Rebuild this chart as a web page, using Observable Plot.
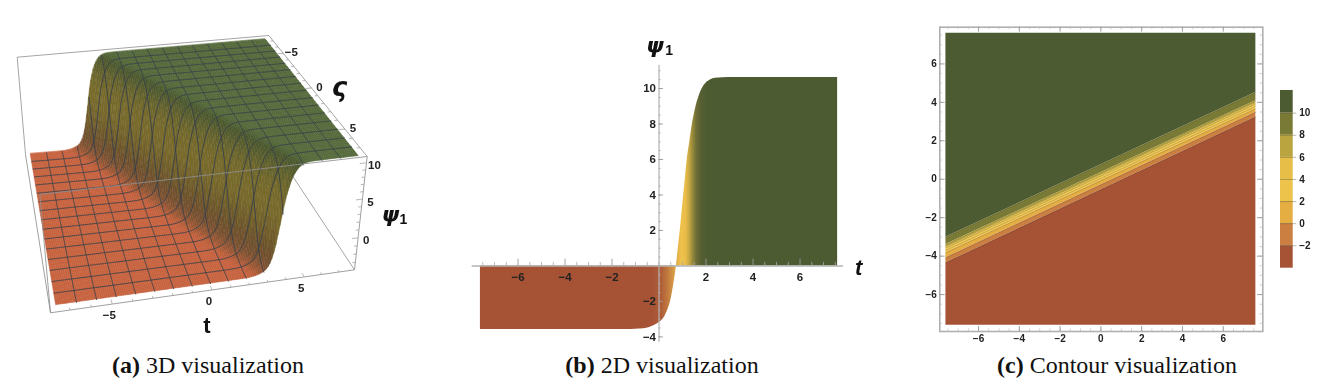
<!DOCTYPE html>
<html><head><meta charset="utf-8">
<script src="https://cdn.jsdelivr.net/npm/d3@7"></script>
<script src="https://cdn.jsdelivr.net/npm/@observablehq/plot@0.6"></script>
<style>
html,body{margin:0;background:#fff;width:1326px;height:387px;overflow:hidden}
.p{position:absolute}
.p svg{display:block;overflow:visible;background:transparent;filter:blur(.35px)}
.cap{position:absolute;transform:translateX(-50%);font:24px "Liberation Serif",serif;color:#111;white-space:nowrap;top:352px}
</style></head><body>
<script>
// ---------- values ----------
const profT   = [-7.6,-1.4,-1.0,-0.65,-0.4,-0.2,0.0,0.2,0.35,0.49,0.62,0.74,0.82,0.92,1.02,1.11,1.2,1.31,1.42,1.55,1.7,1.84,2.0,2.2,2.4,2.7,3.2,7.6];
const profPsi = [-3.58,-3.58,-3.57,-3.54,-3.47,-3.36,-3.2,-2.95,-2.55,-2.0,-1.1,0,1.0,2.2,3.6,4.8,6,7.0,8,8.85,9.55,10,10.3,10.5,10.58,10.61,10.62,10.62];
const gradT     = [-7.6,-0.3,0.1,0.4,0.7,0.95,1.15,1.3,1.45,1.6,1.8,2.1,7.6];
const gradColor = ["#a65335","#a65335","#ae5d38","#c27b3f","#dca247","#eec24b","#e9bd48","#c9a743","#968a3a","#6e6f35","#565f32","#4c5b31","#4c5b31"];
const ticks2dX = [-6,-4,-2,2,4,6];
const ticks2dY = [-4,-2,2,4,6,8,10];
const levels   = [10,8,6,4,2,0,-2];
const yAtLeft  = [-3.02,-3.40,-3.56,-3.69,-3.82,-4.08,-4.35];
const yAtRight = [4.51,4.09,3.93,3.80,3.67,3.49,3.24];
const bandColor = ["#4c5b31","#7a7a37","#b9a43f","#e7bf48","#edc34b","#e5ae43","#cb7f41","#a65235"];
const ticksC = [-6,-4,-2,0,2,4,6];
const frontSlope = 0.5, frontShift = 1.04;
const surfPsi   = [-3.6,-3.45,-3.2,-2.6,-1.5,0.5,3,6,8,9.4,10.1,10.45,10.62];
const surfColor = ["#c9623f","#bd5f3b","#9a5735","#7a5232","#6d4f2c","#6f5c2a","#786a2b","#75692b","#66632d","#555c2f","#4a572d","#4f6235","#55693a"];
const meshLines = d3.range(1,16).map(i=>-7.6+i*15.2/16);
const topQuad = [[16.7,56.7],[268.3,35],[366.7,156],[39.3,194]];
const botQuad = [[25,154],[265.3,135],[354,269.3],[50,312.3]];
const psiBox = [-3.9,10.9], tBox = [-7.9,7.9];

const txt = {fontFamily:'"Liberation Sans",Arial,sans-serif',fontWeight:700,fill:"#222",fontSize:11.5};
const greek = {fontFamily:'"DejaVu Sans",sans-serif',fontWeight:700,fontStyle:"italic",fill:"#111"};
const sub1 = {fontFamily:'"Liberation Sans",sans-serif',fontWeight:700,fill:"#111",fontSize:14};
const fmt = d => String(d).replace("-","\u2212");
function place(el,left,top){const d=document.createElement("div");d.className="p";d.style.left=left+"px";d.style.top=top+"px";d.append(el);document.body.append(d);}
function cap(b,rest,cx){const d=document.createElement("div");d.className="cap";d.style.left=cx+"px";d.innerHTML="<b>"+b+"</b> "+rest;document.body.append(d);}

function quadMap([p0,p1,p2,p3]){
  const [x0,y0]=p0,[x1,y1]=p1,[x2,y2]=p2,[x3,y3]=p3;
  const dx1=x1-x2,dx2=x3-x2,dx3=x0-x1+x2-x3,dy1=y1-y2,dy2=y3-y2,dy3=y0-y1+y2-y3;
  const det=dx1*dy2-dx2*dy1,g=(dx3*dy2-dx2*dy3)/det,h=(dx1*dy3-dx3*dy1)/det;
  const a=x1-x0+g*x1,b=x3-x0+h*x3,d=y1-y0+g*y1,e=y3-y0+h*y3;
  return (u,v)=>{const w=g*u+h*v+1;return [(a*u+b*v+x0)/w,(d*u+e*v+y0)/w];};
}
const mapTop=quadMap(topQuad),mapBot=quadMap(botQuad);
const norm=d3.scaleLinear().domain(tBox).range([0,1]);
function proj(t,z,psi){
  const u=norm(t),v=norm(z),raw=(psi-psiBox[0])/(psiBox[1]-psiBox[0]),w=raw*1.1/(1+0.1*raw);
  const a=mapTop(u,v),b=mapBot(u,v);
  return [b[0]+(a[0]-b[0])*w,b[1]+(a[1]-b[1])*w];
}
const profile=d3.scaleLinear().domain(profT).range(profPsi).clamp(true);
const surf=(t,z)=>profile(t-frontSlope*z+frontShift);
const shade=d3.scaleLinear().domain(surfPsi).range(surfColor).clamp(true);

const quads=[];
const zGrid=d3.range(0,38).map(i=>-7.6+i*0.4);
for(const t of d3.range(0,152).map(i=>7.6-i*0.1)) for(const z of zGrid){
  const t0=t-0.1,z1=z+0.4,id=quads.length/2|0;
  const a=proj(t,z,surf(t,z)),b=proj(t0,z,surf(t0,z)),c=proj(t,z1,surf(t,z1)),d=proj(t0,z1,surf(t0,z1));
  const col=shade(surf(t-0.05,z+0.2));
  quads.push({id,x1:a[0],y1:a[1],x2:b[0],y2:b[1],c:col},{id,x1:c[0],y1:c[1],x2:d[0],y2:d[1],c:col});
}
const fine=d3.range(0,305).map(i=>-7.6+i*0.05);
const mesh=[];
for(const t of meshLines) for(const z of fine){const p=proj(t,z,surf(t,z));mesh.push({k:"t"+t,x:p[0],y:p[1]});}
for(const z of meshLines) for(const t of fine){const p=proj(t,z,surf(t,z));mesh.push({k:"z"+z,x:p[0],y:p[1]});}

const B=tBox,P=psiBox;
const edge=(a,b)=>{const p=proj(...a),q=proj(...b);return {x1:p[0],y1:p[1],x2:q[0],y2:q[1]};};
const backEdges=[edge([B[0],B[0],P[1]],[B[1],B[0],P[1]]),edge([B[0],B[0],P[1]],[B[0],B[0],P[0]]),edge([B[1],B[0],P[0]],[B[1],B[1],P[0]]),edge([B[1],B[0],P[1]],[B[1],B[1],P[1]])];
const frontEdges=[edge([B[0],B[1],P[1]],[B[1],B[1],P[1]]),edge([B[0],B[1],P[0]],[B[1],B[1],P[0]]),edge([B[1],B[1],P[0]],[B[1],B[1],P[1]]),edge([B[0],B[1],P[0]],[B[0],B[1],P[1]]),edge([B[0],B[0],P[0]],[B[0],B[1],P[0]])];
const tickLinks=[];
d3.range(-7,8).forEach(v=>{const L=v%5===0?0.35:0.18;
  tickLinks.push(edge([v,B[1],P[0]],[v,B[1]-L,P[0]]));
  tickLinks.push(edge([B[1],v,P[1]],[B[1]-L,v,P[1]]));
});
d3.range(-3,11).forEach(v=>{tickLinks.push(edge([B[1],B[1],v],[B[1]-(v%5===0?0.35:0.18),B[1],v]));});
const labelsA=[
  ...[-5,0,5].map(v=>{const p=proj(v,B[1],P[0]);return {x:p[0]-3,y:p[1]+11,s:fmt(v)};}),
  ...[-5,0,5].map(v=>{const p=proj(B[1],v,P[1]);return {x:p[0]+8,y:p[1]-1,s:fmt(v)};}),
  ...[0,5,10].map(v=>{const p=proj(B[1],B[1],v);return {x:p[0]+8,y:p[1]+3,s:fmt(v)};})
];

place(Plot.plot({width:430,height:350,margin:0,
  x:{domain:[0,430],range:[0,430],axis:null},y:{domain:[0,350],range:[0,350],axis:null},color:{type:"identity"},
  marks:[
    Plot.link(backEdges,{x1:"x1",y1:"y1",x2:"x2",y2:"y2",stroke:"#a5a5a5",strokeWidth:1}),
    Plot.area(quads,{x1:"x1",y1:"y1",x2:"x2",y2:"y2",z:"id",fill:"c",stroke:"c",strokeWidth:0.5,curve:"linear"}),
    Plot.line(mesh,{x:"x",y:"y",z:"k",stroke:"#39404a",strokeWidth:1,strokeOpacity:0.9}),
    Plot.link(frontEdges,{x1:"x1",y1:"y1",x2:"x2",y2:"y2",stroke:"#8f8f8f",strokeWidth:1,strokeOpacity:0.85}),
    Plot.link(tickLinks,{x1:"x1",y1:"y1",x2:"x2",y2:"y2",stroke:"#999",strokeWidth:0.7}),
    Plot.text(labelsA,{x:"x",y:"y",text:"s",...txt}),
    Plot.text(["t"],{x:[206.5],y:[325],text:d=>d,...txt,fontSize:22,fill:"#111"}),
    Plot.text(["ς"],{x:[339],y:[87],text:d=>d,...greek,fontSize:26}),
    Plot.text(["ψ"],{x:[390],y:[214],text:d=>d,...greek,fontSize:22}),
    Plot.text(["1"],{x:[403],y:[219],text:d=>d,...sub1})
  ]}),0,0);

const prof=profT.map((t,i)=>({t,psi:profPsi[i]}));
const minorX=d3.range(-15,16).map(i=>i/2).filter(v=>v%2!==0||v===0);
const minorY=d3.range(-8,23).map(i=>i/2);
const gradDefs=(idx,{x})=>{
  const ns="http://www.w3.org/2000/svg",defs=document.createElementNS(ns,"defs"),g=document.createElementNS(ns,"linearGradient");
  g.setAttribute("id","gb");g.setAttribute("gradientUnits","userSpaceOnUse");g.setAttribute("x1",x(gradT[0]));g.setAttribute("x2",x(gradT[gradT.length-1]));g.setAttribute("y1",0);g.setAttribute("y2",0);
  gradT.forEach((t,i)=>{const s=document.createElementNS(ns,"stop");s.setAttribute("offset",(t-gradT[0])/(gradT[gradT.length-1]-gradT[0]));s.setAttribute("stop-color",gradColor[i]);g.append(s);});
  defs.append(g);return defs;};
place(Plot.plot({width:450,height:330,marginLeft:41.7,marginRight:37,marginTop:45,marginBottom:8.3,
  x:{domain:[-7.95,7.85],axis:null},y:{domain:[-4.3,11.3],axis:null},
  marks:[
    (i,s)=>gradDefs(i,s),
    Plot.areaY(prof,{x:"t",y1:0,y2:"psi",fill:"url(#gb)",curve:"monotone-x"}),
    Plot.ruleY([0],{stroke:"#b3b3b3",strokeWidth:1.5}),
    Plot.ruleX([0],{stroke:"#b3b3b3",strokeWidth:1.2}),
    Plot.ruleX(minorX,{y1:0,y2:0.2,stroke:"#aaa",strokeWidth:0.8}),
    Plot.ruleX(ticks2dX,{y1:0,y2:0.38,stroke:"#999",strokeWidth:0.9}),
    Plot.ruleY(minorY,{x1:0,x2:0.09,stroke:"#aaa",strokeWidth:0.8}),
    Plot.ruleY(ticks2dY,{x1:0,x2:0.19,stroke:"#999",strokeWidth:0.9}),
    Plot.text(ticks2dX,{x:d=>d,y:0,dy:11,text:fmt,...txt}),
    Plot.text(ticks2dY,{x:0,y:d=>d,dx:-3,textAnchor:"end",text:fmt,...txt}),
    Plot.text(["t"],{x:[8.5],y:[-0.1],text:d=>d,fontFamily:'"Liberation Sans",sans-serif',fontWeight:700,fontStyle:"italic",fontSize:22,fill:"#111"}),
    Plot.text(["ψ"],{x:[0],y:[12.4],dx:-4,text:d=>d,...greek,fontSize:22}),
    Plot.text(["1"],{x:[0],y:[12.4],dx:10,dy:5,text:d=>d,...sub1})
  ]}),430,20);

const X0=-7.6,X1=7.6;
const bands=[];
bandColor.forEach((c,i)=>{
  const upL=i===0?7.6:yAtLeft[i-1],upR=i===0?7.6:yAtRight[i-1],loL=i===levels.length?-7.6:yAtLeft[i],loR=i===levels.length?-7.6:yAtRight[i];
  bands.push({b:i,x:X0,y1:loL,y2:upL,c},{b:i,x:X1,y1:loR,y2:upR,c});
});
const lines=levels.flatMap((l,i)=>[{l,x:X0,y:yAtLeft[i]},{l,x:X1,y:yAtRight[i]}]);
const FX=[-7.9,7.94],FY=[-7.92,7.91];
const minorC=d3.range(-15,16).map(i=>i/2);
const sideTicks=(vals,L,w,col)=>[
  Plot.ruleX(vals,{y1:FY[0],y2:FY[0]+L,stroke:col,strokeWidth:w}),
  Plot.ruleX(vals,{y1:FY[1],y2:FY[1]-L,stroke:col,strokeWidth:w}),
  Plot.ruleY(vals,{x1:FX[0],x2:FX[0]+L,stroke:col,strokeWidth:w}),
  Plot.ruleY(vals,{x1:FX[1],x2:FX[1]-L,stroke:col,strokeWidth:w})];
place(Plot.plot({width:370,height:330,marginLeft:39.3,marginRight:7.7,marginTop:6.7,marginBottom:19,
  x:{domain:FX,axis:null},y:{domain:FY,axis:null},color:{type:"identity"},
  marks:[
    Plot.areaY(bands,{x:"x",y1:"y1",y2:"y2",z:"b",fill:"c",curve:"linear"}),
    Plot.line(lines,{x:"x",y:"y",z:"l",stroke:"#4a4a20",strokeOpacity:0.35,strokeWidth:0.6}),
    Plot.frame({stroke:"#b0b0b0",strokeWidth:1.6}),
    ...sideTicks(minorC,0.13,0.7,"#bbb"),
    ...sideTicks(ticksC,0.26,0.9,"#999"),
    Plot.text(ticksC,{x:d=>d,y:FY[0],dy:7,text:fmt,...txt,fontSize:10}),
    Plot.text(ticksC,{x:FX[0],y:d=>d,dx:-3,textAnchor:"end",text:fmt,...txt,fontSize:10})
  ]}),900,20);

const legendEdges=[12.05,...levels,-4.03];
const legendRects=bandColor.map((c,i)=>({y1:legendEdges[i+1],y2:legendEdges[i],c}));
place(Plot.plot({width:56,height:200,marginLeft:10,marginRight:33.3,marginTop:10,marginBottom:12.3,
  x:{domain:[0,1],axis:null},y:{domain:[-4.03,12.05],axis:null},color:{type:"identity"},
  marks:[
    Plot.rect(legendRects,{x1:0,x2:1,y1:"y1",y2:"y2",fill:"c"}),
    Plot.ruleY(levels,{x1:0,x2:1.28,stroke:"#5a5a30",strokeOpacity:0.6,strokeWidth:0.7}),
    Plot.text(levels,{x:1,y:d=>d,dx:6,textAnchor:"start",text:fmt,...txt,fontSize:10})
  ]}),1270,80);

cap("(a)","3D visualization",208);
cap("(b)","2D visualization",662);
cap("(c)","Contour visualization",1117);
</script>
</body></html>
